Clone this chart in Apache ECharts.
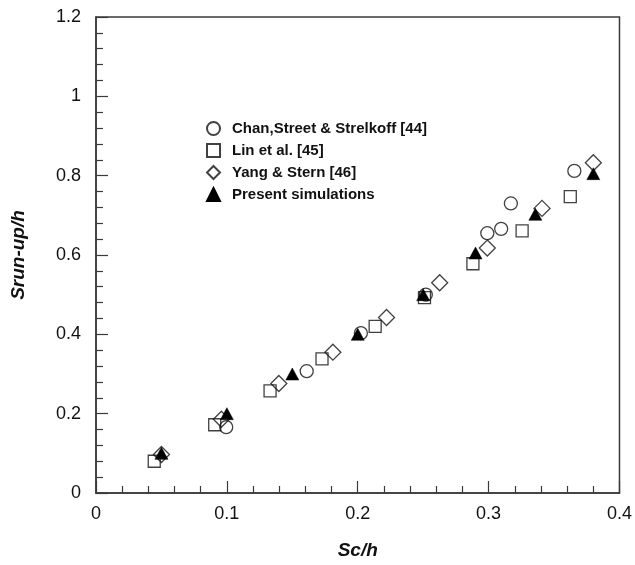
<!DOCTYPE html>
<html>
<head>
<meta charset="utf-8">
<script src="https://cdn.jsdelivr.net/npm/echarts@6/dist/echarts.min.js"></script>
<style>
html,body{margin:0;padding:0;background:#fff;}
#chart{width:635px;height:565px;}
</style>
</head>
<body>
<div id="chart"></div>
<script>
// ---- data ----
var seriesNames = ['Chan,Street & Strelkoff [44]', 'Lin et al. [45]', 'Yang & Stern [46]', 'Present simulations'];

var chanX = [0.0995, 0.161, 0.2024, 0.252, 0.299, 0.3096, 0.317, 0.3655];
var chanY = [0.166, 0.307, 0.403, 0.500, 0.655, 0.666, 0.730, 0.812];

var linX = [0.0445, 0.0907, 0.133, 0.1727, 0.2133, 0.251, 0.288, 0.3256, 0.3624];
var linY = [0.080, 0.172, 0.2575, 0.338, 0.420, 0.4925, 0.578, 0.661, 0.747];

var yangX = [0.050, 0.0958, 0.1397, 0.181, 0.222, 0.2626, 0.299, 0.3408, 0.380];
var yangY = [0.097, 0.186, 0.276, 0.355, 0.4425, 0.530, 0.6175, 0.7175, 0.8325];

var simX = [0.05, 0.10, 0.15, 0.20, 0.25, 0.29, 0.3357, 0.38];
var simY = [0.10, 0.20, 0.30, 0.40, 0.50, 0.605, 0.7025, 0.805];

var xTickLabels = ['0', '0.1', '0.2', '0.3', '0.4'];
var yTickLabels = ['0', '0.2', '0.4', '0.6', '0.8', '1', '1.2'];

function pairs(xs, ys) {
  var out = [];
  for (var i = 0; i < xs.length; i++) out.push([xs[i], ys[i]]);
  return out;
}

var ink = '#111111';
var axisCol = '#3a3a3a';
var fontFam = '"Liberation Sans", Arial, Helvetica, sans-serif';

var chart = echarts.init(document.getElementById('chart'), null, {renderer: 'canvas'});

var hollow = {color: 'rgba(255,255,255,0)', borderColor: ink, borderWidth: 1.3};

chart.setOption({
  backgroundColor: '#fff',
  animation: false,
  grid: {
    left: 96, right: 14, top: 17, bottom: 68,
    show: true, borderColor: axisCol, borderWidth: 1.5, backgroundColor: 'transparent'
  },
  legend: {
    orient: 'vertical',
    left: 201, top: 116,
    itemWidth: 13, itemHeight: 13,
    itemGap: 7,
    data: seriesNames,
    textStyle: {
      fontFamily: fontFam, fontWeight: 'bold', fontSize: 15, color: '#111',
      padding: [0, 0, 0, 7]
    }
  },
  xAxis: {
    type: 'value',
    min: 0, max: 0.4, interval: 0.1,
    name: 'Sc/h',
    nameLocation: 'middle',
    nameGap: 48,
    nameTextStyle: {fontFamily: fontFam, fontWeight: 'bold', fontStyle: 'italic', fontSize: 19, color: '#111'},
    axisLine: {show: true, lineStyle: {color: axisCol, width: 1.5}},
    axisTick: {show: true, inside: true, length: 12, lineStyle: {color: axisCol, width: 1.2}},
    minorTick: {show: true, splitNumber: 5, length: 7, lineStyle: {color: axisCol, width: 1.2}},
    splitLine: {show: false},
    minorSplitLine: {show: false},
    axisLabel: {
      margin: 12, fontFamily: fontFam, fontSize: 18, color: '#111',
      formatter: function (v) { return xTickLabels[Math.round(v / 0.1)]; }
    }
  },
  yAxis: {
    type: 'value',
    min: 0, max: 1.2, interval: 0.2,
    name: 'Srun-up/h',
    nameLocation: 'middle',
    nameGap: 68,
    nameTextStyle: {fontFamily: fontFam, fontWeight: 'bold', fontStyle: 'italic', fontSize: 19, color: '#111'},
    axisLine: {show: true, lineStyle: {color: axisCol, width: 1.5}},
    axisTick: {show: true, inside: true, length: 12, lineStyle: {color: axisCol, width: 1.2}},
    minorTick: {show: true, splitNumber: 5, length: 7, lineStyle: {color: axisCol, width: 1.2}},
    splitLine: {show: false},
    minorSplitLine: {show: false},
    axisLabel: {
      margin: 15, fontFamily: fontFam, fontSize: 18, color: '#111',
      formatter: function (v) { return yTickLabels[Math.round(v / 0.2)]; }
    }
  },
  series: [
    {
      name: seriesNames[0], type: 'scatter', symbol: 'circle', symbolSize: 13,
      itemStyle: hollow, data: pairs(chanX, chanY), z: 3
    },
    {
      name: seriesNames[1], type: 'scatter', symbol: 'rect', symbolSize: 12,
      itemStyle: hollow, data: pairs(linX, linY), z: 2
    },
    {
      name: seriesNames[2], type: 'scatter', symbol: 'diamond', symbolSize: 16,
      itemStyle: hollow, data: pairs(yangX, yangY), z: 4
    },
    {
      name: seriesNames[3], type: 'scatter', symbol: 'triangle', symbolSize: [13, 12],
      itemStyle: {color: '#000', borderColor: '#000', borderWidth: 0.5, opacity: 1}, data: pairs(simX, simY), z: 5
    }
  ]
});
</script>
</body>
</html>
